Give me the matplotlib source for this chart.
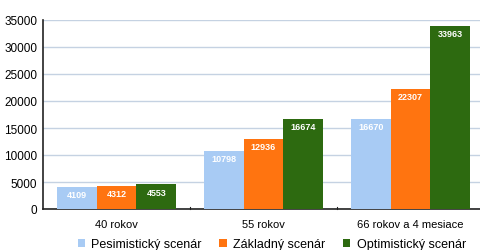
import matplotlib
matplotlib.use("Agg")
import matplotlib.pyplot as plt
import numpy as np

plt.rcParams['font.family'] = ['Liberation Sans', 'DejaVu Sans']

categories = ["40 rokov", "55 rokov", "66 rokov a 4 mesiace"]
series_names = ["Pesimistický scenár", "Základný scenár", "Optimistický scenár"]
pesim = [4109, 10798, 16670]
zakl = [4312, 12936, 22307]
optim = [4553, 16674, 33963]
colors = ["#A8CBF4", "#FF7410", "#2D6A10"]

fig = plt.figure(figsize=(4.81, 2.51), dpi=100)
ax = fig.add_axes([43/481, 1-210/251, 441/481, 189/251])

x = np.arange(len(categories))
w = 0.27
for i, (vals, name, c) in enumerate(zip([pesim, zakl, optim], series_names, colors)):
    bars = ax.bar(x + (i-1)*w, vals, width=w, color=c, label=name, zorder=3)
    for b, v in zip(bars, vals):
        ax.text(b.get_x()+b.get_width()/2, v - 600, str(v), ha="center", va="top",
                color="white", fontsize=6.5, fontweight="bold", zorder=4)

ax.set_xlim(-0.5, 2.5)
ax.set_ylim(0, 35000)
ax.set_yticks(range(0, 35001, 5000))
ax.tick_params(axis="y", labelsize=8.5, length=0, pad=4)
ax.set_xticks(x)
ax.set_xticklabels(categories, fontsize=8)
ax.tick_params(axis="x", length=0, pad=7)
for xb in [0.5, 1.5]:
    ax.plot([xb, xb], [0, 400], color="#222222", lw=0.8, zorder=5, clip_on=False)
ax.yaxis.grid(True, color="#C5D2E2", lw=1, zorder=0)
for s in ["top", "right"]:
    ax.spines[s].set_visible(False)
ax.spines["left"].set_color("#222222")
ax.spines["left"].set_linewidth(1.2)
ax.spines["bottom"].set_color("#222222")
ax.spines["bottom"].set_linewidth(1.2)

fig.legend(loc="lower center", bbox_to_anchor=(0.565, -0.045), ncol=3, frameon=False,
           fontsize=9, handlelength=0.6, handleheight=0.6, columnspacing=1.4, handletextpad=0.5)

fig.savefig("out.png", dpi=100)
